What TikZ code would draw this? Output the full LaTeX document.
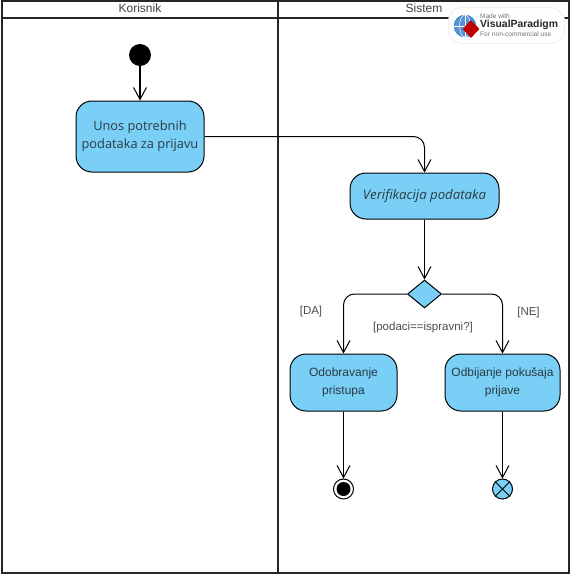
\documentclass[tikz,border=0pt]{standalone}
\usepackage{fontspec}
\setmainfont{Liberation Sans}
\newfontfamily\opensans{Open Sans}
\usetikzlibrary{arrows.meta,shapes.geometric}
\definecolor{vpblue}{HTML}{7ACFF6}
\definecolor{vptext}{HTML}{2B3A42}
\tikzset{
  akcija/.style={draw=black,fill=vpblue,rounded corners=16pt,line width=1pt,align=center,
    text=vptext,font=\fontsize{12}{18}\selectfont,inner sep=0pt},
  prelaz/.style={draw=black,line width=1pt,rounded corners=11pt,-{Straight Barb[length=12pt,width=13pt,line width=1pt]}},
  traka/.style={draw=black!85,line width=2pt},
  naslov/.style={font=\fontsize{12}{14}\selectfont,text=black!75},
  uslov/.style={font=\fontsize{11.5}{12}\selectfont,text=black!70},
}
\begin{document}
\begin{tikzpicture}[x=1pt,y=-1pt]
\useasboundingbox (0,0) rectangle (571,576);
\fill[white] (0,0) rectangle (571,576);

% plivacke staze
\draw[traka] (2,1) rectangle (569,573);
\draw[traka] (2,18)--(569,18);
\draw[traka] (278,1)--(278,573);
\node[naslov] (korisnik) at (140,8.5) {Korisnik};
\node[naslov] (sistem) at (424,8.5) {Sistem};

% cvorovi
\node[circle,fill=black,inner sep=0pt,minimum size=22pt] (pocetak) at (140,55) {};
\node[akcija,minimum width=128pt,minimum height=71pt,font=\opensans\fontsize{12.8}{18}\selectfont] (unos) at (140,136.5) {Unos potrebnih\\podataka za prijavu};
\node[akcija,minimum width=149pt,minimum height=46pt,font=\opensans\itshape\fontsize{13.2}{18}\selectfont] (verifikacija) at (424.5,196) {Verifikacija podataka};
\node[diamond,draw=black,fill=vpblue,line width=1pt,inner sep=0pt,minimum width=34pt,minimum height=28pt] (odluka) at (424.5,294) {};
\node[akcija,minimum width=107pt,minimum height=57pt] (odobravanje) at (343.5,382.5) {Odobravanje\\pristupa};
\node[akcija,minimum width=115pt,minimum height=57pt] (odbijanje) at (502.5,382.5) {Odbijanje pokušaja\\prijave};
\node[circle,draw=black,fill=white,line width=1pt,inner sep=0pt,minimum size=20pt] (kraj) at (343.5,489) {};
\fill[black] (kraj) circle (7);
\node[circle,draw=black,fill=vpblue,line width=1pt,inner sep=0pt,minimum size=20pt] (krajtoka) at (502.5,489) {};
\draw[line width=1pt] (krajtoka.north west)--(krajtoka.south east);
\draw[line width=1pt] (krajtoka.north east)--(krajtoka.south west);

% prelazi
\draw[prelaz,line width=1.5pt] (pocetak)--(unos);
\draw[prelaz] (unos.east) -| (verifikacija.north);
\draw[prelaz] (verifikacija)--(odluka);
\draw[prelaz] (odluka.west) -| (odobravanje.north);
\draw[prelaz] (odluka.east) -| (odbijanje.north);
\draw[prelaz] (odobravanje)--(kraj);
\draw[prelaz] (odbijanje)--(krajtoka);

\node[uslov] (da) at (311,312) {[DA]};
\node[uslov] (ne) at (528.5,313) {[NE]};
\node[uslov] (podaci) at (423,328) {[podaci==ispravni?]};

% vodeni znak
\node[draw=black!6,fill=white,line width=1pt,rounded corners=14pt,minimum width=116pt,minimum height=36pt] (znak) at (506.5,25.5) {};
\node[circle,fill=cyan!55!blue!70,draw=cyan!60!blue,inner sep=0pt,minimum size=22pt] (globus) at (465,26) {};
\draw[white,line width=.5pt] (globus.west)--(globus.east) (globus.north)--(globus.south);
\draw[white,line width=.5pt] (465,26) ellipse (5.5 and 11);
\node[diamond,fill=red!75!black,inner sep=0pt,minimum width=17pt,minimum height=18pt] (crven) at (471,29) {};
\node[anchor=west,inner sep=0pt,text=black!55,font=\fontsize{6.5}{7}\selectfont] (made) at (480,16) {Made with};
\node[anchor=west,inner sep=0pt,text=black!85,font=\bfseries\fontsize{10.4}{11}\selectfont] (visual) at (480,25) {VisualParadigm};
\node[anchor=west,inner sep=0pt,text=black!55,font=\fontsize{6.6}{7}\selectfont] (komercijalno) at (480,34.5) {For non-commercial use};
\end{tikzpicture}
\end{document}
